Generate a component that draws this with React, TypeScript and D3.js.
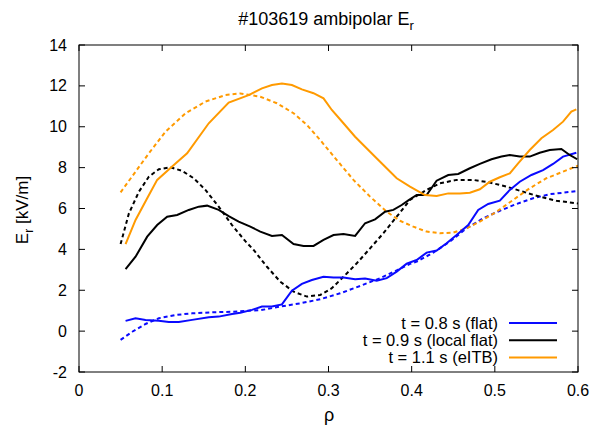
import React from "react";
import * as d3 from "d3";

const rho08 = [0.056,0.068,0.080,0.096,0.108,0.120,0.136,0.156,0.168,0.184,0.194,0.208,0.220,0.232,0.244,0.256,0.268,0.280,0.294,0.306,0.318,0.332,0.344,0.358,0.370,0.382,0.394,0.406,0.418,0.430,0.442,0.454,0.468,0.480,0.492,0.506,0.518,0.530,0.544,0.558,0.570,0.582,0.598];
const er08 = [0.50,0.63,0.55,0.51,0.45,0.45,0.55,0.68,0.71,0.84,0.90,1.04,1.20,1.20,1.31,1.98,2.31,2.50,2.66,2.62,2.62,2.54,2.57,2.47,2.59,2.91,3.30,3.48,3.84,3.94,4.30,4.70,5.19,5.93,6.22,6.38,6.91,7.31,7.64,7.88,8.18,8.54,8.73];

const rho09 = [0.056,0.068,0.082,0.094,0.106,0.118,0.132,0.144,0.154,0.168,0.180,0.192,0.206,0.218,0.232,0.244,0.258,0.270,0.282,0.294,0.306,0.318,0.332,0.344,0.356,0.368,0.378,0.388,0.396,0.406,0.418,0.430,0.444,0.456,0.470,0.482,0.496,0.508,0.518,0.530,0.542,0.554,0.566,0.580,0.590,0.599];
const er09 = [3.03,3.64,4.62,5.19,5.60,5.68,5.93,6.09,6.14,5.93,5.63,5.36,5.11,4.87,4.66,4.70,4.26,4.17,4.17,4.46,4.70,4.75,4.66,5.28,5.47,5.84,5.93,6.17,6.40,6.66,6.66,7.36,7.64,7.69,7.97,8.18,8.41,8.54,8.62,8.54,8.54,8.73,8.86,8.91,8.62,8.41];

const rho11 = [0.056,0.068,0.082,0.094,0.112,0.130,0.156,0.180,0.204,0.220,0.232,0.244,0.256,0.268,0.282,0.294,0.304,0.318,0.332,0.350,0.366,0.382,0.398,0.416,0.430,0.444,0.458,0.470,0.482,0.494,0.506,0.518,0.528,0.542,0.556,0.570,0.582,0.592,0.598];
const er11 = [4.26,5.44,6.50,7.40,8.05,8.70,10.17,11.18,11.55,11.88,12.04,12.12,12.04,11.83,11.64,11.39,10.82,10.17,9.51,8.78,8.13,7.48,7.07,6.66,6.61,6.74,6.74,6.77,6.94,7.31,7.53,7.72,8.21,8.86,9.44,9.84,10.25,10.74,10.85];

const rhoFit08 = [0.050,0.064,0.080,0.096,0.116,0.136,0.160,0.184,0.204,0.218,0.242,0.266,0.290,0.314,0.338,0.362,0.382,0.398,0.406,0.426,0.446,0.466,0.486,0.506,0.526,0.546,0.566,0.586,0.600];
const erFit08 = [-0.43,-0.03,0.35,0.63,0.79,0.87,0.92,0.95,1.00,1.02,1.20,1.36,1.56,1.85,2.21,2.59,2.97,3.29,3.40,3.84,4.38,5.03,5.52,5.89,6.22,6.50,6.70,6.79,6.86];

const rhoFit09 = [0.050,0.060,0.072,0.084,0.096,0.110,0.124,0.138,0.152,0.168,0.184,0.200,0.210,0.226,0.242,0.258,0.274,0.290,0.304,0.318,0.334,0.350,0.366,0.382,0.398,0.418,0.434,0.454,0.474,0.494,0.514,0.534,0.554,0.574,0.600];
const erFit09 = [4.26,5.76,6.82,7.56,7.92,8.02,7.84,7.48,6.91,6.09,5.19,4.40,3.97,3.15,2.42,1.93,1.69,1.77,2.10,2.66,3.32,4.05,4.79,5.60,6.42,6.91,7.23,7.40,7.40,7.27,7.07,6.82,6.58,6.38,6.25];

const rhoFit11 = [0.050,0.068,0.084,0.104,0.128,0.152,0.176,0.194,0.218,0.238,0.258,0.274,0.290,0.310,0.330,0.350,0.370,0.386,0.402,0.418,0.434,0.450,0.466,0.482,0.502,0.522,0.542,0.562,0.582,0.600];
const erFit11 = [6.79,7.80,8.70,9.76,10.66,11.23,11.55,11.63,11.47,11.15,10.66,10.09,9.35,8.37,7.40,6.58,5.84,5.40,5.11,4.87,4.79,4.82,5.03,5.36,5.84,6.42,6.99,7.48,7.80,8.10];

const xTicks = [0, 0.1, 0.2, 0.3, 0.4, 0.5, 0.6];
const yTicks = [-2, 0, 2, 4, 6, 8, 10, 12, 14];
const legendLabels = ["t = 0.8 s (flat)", "t = 0.9 s (local flat)", "t = 1.1 s (eITB)"];

const BLUE = "#0a0aff";
const BLACK = "#000000";
const ORANGE = "#ff9a00";

export default function App() {
  const W = 592, H = 430;
  const L = 79, R = 578, T = 45, B = 372;
  const x = d3.scaleLinear().domain([0, 0.6]).range([L, R]);
  const y = d3.scaleLinear().domain([-2, 14]).range([B, T]);
  const line = d3.line<[number, number]>().x(d => x(d[0])).y(d => y(d[1]));
  const zip = (a: number[], b: number[]) => a.map((v, i) => [v, b[i]] as [number, number]);

  const series = [
    { d: zip(rhoFit08, erFit08), c: BLUE, dash: "4,3" },
    { d: zip(rhoFit09, erFit09), c: BLACK, dash: "4,3" },
    { d: zip(rhoFit11, erFit11), c: ORANGE, dash: "4,3" },
    { d: zip(rho08, er08), c: BLUE, dash: undefined },
    { d: zip(rho09, er09), c: BLACK, dash: undefined },
    { d: zip(rho11, er11), c: ORANGE, dash: undefined },
  ];
  const font = "Liberation Sans, Arial, sans-serif";
  const tk = 6;
  const legendColors = [BLUE, BLACK, ORANGE];

  return (
    <svg width={W} height={H} style={{ position: "absolute", left: 0, top: 0 }} fontFamily={font}>
      <rect x={0} y={0} width={W} height={H} fill="#fff" />
      <defs>
        <clipPath id="plot"><rect x={L} y={T} width={R - L} height={B - T} /></clipPath>
      </defs>
      {series.map((s, i) => (
        <path key={i} d={line(s.d) || ""} fill="none" stroke={s.c} strokeWidth={2}
          strokeDasharray={s.dash} clipPath="url(#plot)" />
      ))}
      {xTicks.map(t => (
        <g key={"x" + t}>
          <line x1={x(t)} x2={x(t)} y1={B} y2={B - tk} stroke="#000" strokeWidth={1} />
          <line x1={x(t)} x2={x(t)} y1={T} y2={T + tk} stroke="#000" strokeWidth={1} />
          <text x={x(t)} y={396} fontSize={16} textAnchor="middle" fill="#000">{t === 0 ? "0" : t.toFixed(1)}</text>
        </g>
      ))}
      {yTicks.map(t => (
        <g key={"y" + t}>
          <line x1={L} x2={L + tk} y1={y(t)} y2={y(t)} stroke="#000" strokeWidth={1} />
          <line x1={R} x2={R - tk} y1={y(t)} y2={y(t)} stroke="#000" strokeWidth={1} />
          <text x={67} y={y(t) + 5.5} fontSize={16} textAnchor="end" fill="#000">{t}</text>
        </g>
      ))}
      <rect x={L} y={T} width={R - L} height={B - T} fill="none" stroke="#000" strokeWidth={1} />
      {legendLabels.map((lab, i) => (
        <g key={lab}>
          <text x={498} y={323 + i * 17.3 + 5.7} fontSize={16.5} textAnchor="end" fill="#000">{lab}</text>
          <line x1={509} x2={557} y1={323 + i * 17.3} y2={323 + i * 17.3} stroke={legendColors[i]} strokeWidth={2} />
        </g>
      ))}
      <text x={326} y={25} fontSize={18} textAnchor="middle" fill="#000">
        #103619 ambipolar E<tspan fontSize={13} dy={5}>r</tspan>
      </text>
      <text transform="translate(28,210) rotate(-90)" fontSize={17} textAnchor="middle" fill="#000">
        E<tspan fontSize={12} dy={5}>r</tspan><tspan dy={-5}> [kV/m]</tspan>
      </text>
      <text x={329} y={421} fontSize={18} textAnchor="middle" fill="#000">ρ</text>
    </svg>
  );
}
